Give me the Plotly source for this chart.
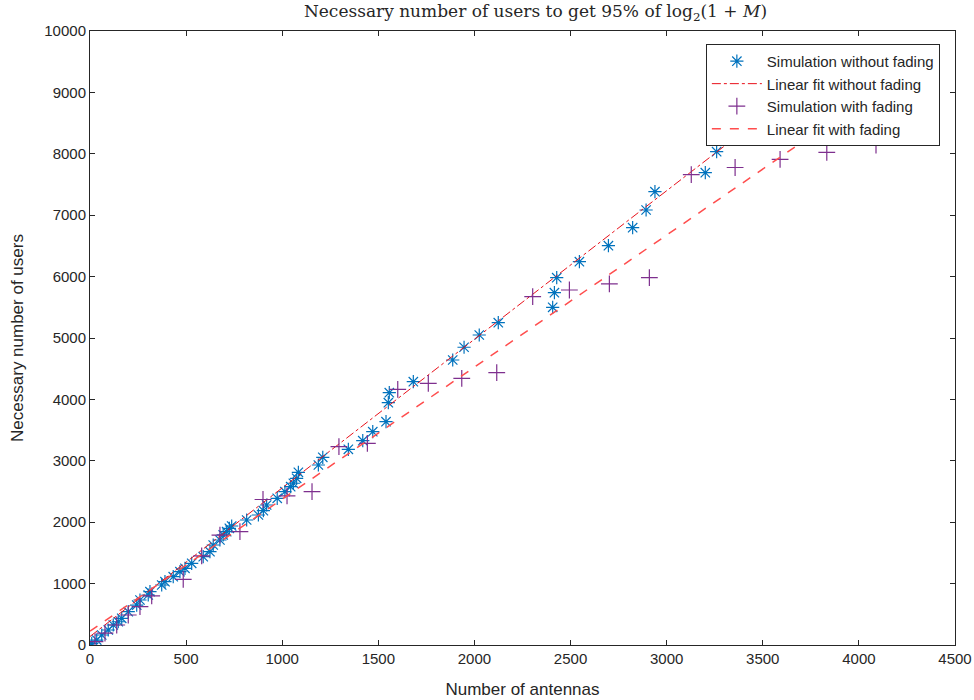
import plotly.graph_objects as go

# Simulation without fading (antennas, users)
nofade_x = [9, 35, 61, 95, 121, 147, 165, 199, 243, 260, 303, 312, 373, 390, 433, 468, 494, 529,
            589, 624, 641, 676, 693, 711, 725, 737, 815, 876, 902, 919, 974, 1014, 1044, 1058,
            1075, 1084, 1188, 1211, 1344, 1419, 1471, 1540, 1552, 1557, 1682, 1887, 1946, 2025,
            2124, 2407, 2416, 2428, 2546, 2697, 2823, 2893, 2939, 3201, 3260, 3310]
nofade_y = [28, 81, 163, 244, 326, 379, 435, 542, 651, 733, 814, 868, 977, 1031, 1112, 1194, 1249,
            1331, 1438, 1520, 1629, 1710, 1792, 1845, 1901, 1938, 2036, 2117, 2187, 2280, 2389,
            2497, 2578, 2634, 2715, 2813, 2932, 3057, 3187, 3328, 3474, 3637, 3946, 4109, 4288,
            4642, 4849, 5049, 5250, 5500, 5738, 5982, 6243, 6503, 6797, 7085, 7383, 7692, 8034, 8400]

# Simulation with fading
fade_x = [26, 78, 139, 199, 260, 321, 485, 581, 676, 780, 900, 1025, 1155, 1295, 1443, 1601, 1760,
          1934, 2116, 2303, 2494, 2702, 2910, 3128, 3356, 3590, 3833, 4089]
fade_y = [54, 195, 326, 489, 624, 800, 1070, 1450, 1790, 1845, 2370, 2430, 2497, 3230, 3285, 4164,
          4262, 4343, 4435, 5673, 5782, 5880, 5982, 7660, 7777, 7910, 8024, 8143]

# Linear fits (end points)
fit_nofade_x = [0, 3400]
fit_nofade_y = [139, 8367]
fit_fade_x = [0, 4100]
fit_fade_y = [226, 9041]

fig = go.Figure()
fig.add_trace(go.Scatter(x=nofade_x, y=nofade_y, mode="markers", name="Simulation without fading",
                         marker=dict(symbol="asterisk-open", size=11, color="#0072BD",
                                     line=dict(color="#0072BD", width=1.2))))
fig.add_trace(go.Scatter(x=fit_nofade_x, y=fit_nofade_y, mode="lines", name="Linear fit without fading",
                         line=dict(color="#E8101A", width=1, dash="dashdot")))
fig.add_trace(go.Scatter(x=fade_x, y=fade_y, mode="markers", name="Simulation with fading",
                         marker=dict(symbol="cross-thin-open", size=12, color="#7E2F8E",
                                     line=dict(color="#7E2F8E", width=1.2))))
fig.add_trace(go.Scatter(x=fit_fade_x, y=fit_fade_y, mode="lines", name="Linear fit with fading",
                         line=dict(color="#FF4D4D", width=1.5, dash="dash")))

axis_common = dict(showgrid=False, zeroline=False, showline=True, linecolor="#262626", linewidth=1,
                   mirror="allticks", ticks="inside", ticklen=5, tickcolor="#262626",
                   tickformat="d", automargin=False,
                   tickfont=dict(family="Liberation Sans, Arial", size=15, color="#262626"))

fig.update_layout(
    width=974, height=700,
    margin=dict(l=90, r=19, t=31, b=55),
    paper_bgcolor="white", plot_bgcolor="white",
    title=dict(text="Necessary number of users to get 95% of log<sub>2</sub>(1 + <i>M</i>)",
               x=0.5498, xanchor="center", xref="container", y=0.984, yanchor="middle", yref="container",
               font=dict(family="DejaVu Serif", size=17, color="#262626")),
    xaxis=dict(range=[0, 4500], dtick=500, tick0=0,
               title=dict(text="Number of antennas", standoff=17,
                          font=dict(family="Liberation Sans, Arial", size=17, color="#262626")),
               **axis_common),
    yaxis=dict(range=[0, 10000], dtick=1000, tick0=0,
               title=dict(text="Necessary number of users", standoff=16,
                          font=dict(family="Liberation Sans, Arial", size=17, color="#262626")),
               **axis_common),
    legend=dict(x=0.9825, y=0.979, xanchor="right", yanchor="top", bgcolor="white",
                bordercolor="#262626", borderwidth=1,
                font=dict(family="Liberation Sans, Arial", size=15, color="#262626"),
                tracegroupgap=0, itemwidth=50),
    showlegend=True,
)

fig.write_html("out.html")
